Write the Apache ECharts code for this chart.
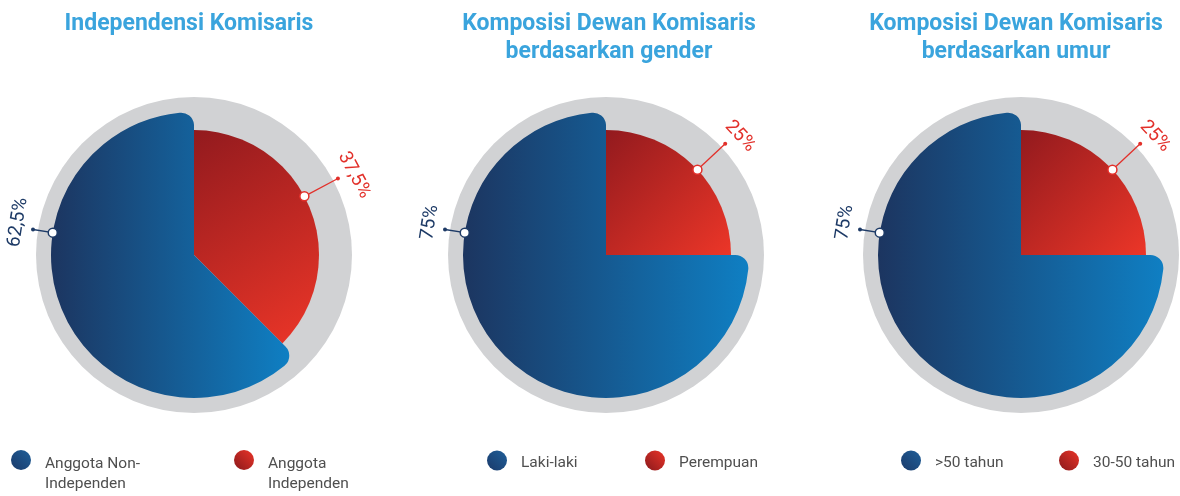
<!DOCTYPE html>
<html>
<head>
<meta charset="utf-8">
<script src="https://cdn.jsdelivr.net/npm/echarts@6/dist/echarts.min.js"></script>
<style>
  html, body { margin: 0; padding: 0; background: #fff; }
  #main { width: 1180px; height: 496px; }
</style>
</head>
<body>
<div id="main"></div>
<script>
// data
var titles = ['Independensi Komisaris', 'Komposisi Dewan Komisaris\nberdasarkan gender', 'Komposisi Dewan Komisaris\nberdasarkan umur'];
var blueNames = ['Anggota Non-Independen', 'Laki-laki', '>50 tahun'];
var redNames = ['Anggota Independen', 'Perempuan', '30-50 tahun'];
var blueLegend = ['Anggota Non-\nIndependen', 'Laki-laki', '>50 tahun'];
var redLegend = ['Anggota\nIndependen', 'Perempuan', '30-50 tahun'];
var blueValues = [62.5, 75, 75];
var redValues = [37.5, 25, 25];

// layout
var centersX = [194, 606, 1021];
var titleX = [184, 604, 1011];
var cy = 255;
var rGray = 158, rBlue = 143, rRed = 125;
var blueIconX = [11, 487, 901];
var redIconX = [234, 645, 1059];
var blueLabelAngle = [171, 171, 171];
var redLabelAngle = [28, 43, 43];
var navy = '#1d3a66', red = '#e2302a';

var blueGrad = new echarts.graphic.LinearGradient(0, 0, 1, 0, [
  { offset: 0, color: '#1c3560' }, { offset: 1, color: '#0f7fc3' }
]);
var redGrad = new echarts.graphic.LinearGradient(0, 0, 1, 1, [
  { offset: 0, color: '#921a1e' }, { offset: 1, color: '#ec3628' }
]);
var blueIcon = new echarts.graphic.LinearGradient(0, 1, 1, 0, [
  { offset: 0, color: '#1b3a6a' }, { offset: 1, color: '#1f5f99' }
]);
var redIcon = new echarts.graphic.LinearGradient(0, 1, 1, 0, [
  { offset: 0, color: '#8a191c' }, { offset: 1, color: '#ea3428' }
]);

function fmt(v) { return String(v).replace('.', ',') + '%'; }

var myChart = echarts.init(document.getElementById('main'));

var option = {
  animation: false,
  title: [],
  legend: [],
  series: [],
  graphic: []
};

var legendMap = {};

for (var i = 0; i < 3; i++) {
  var cx = centersX[i];
  legendMap[blueNames[i]] = blueLegend[i];
  legendMap[redNames[i]] = redLegend[i];

  option.title.push({
    text: titles[i],
    left: titleX[i],
    top: 5,
    textAlign: 'center',
    textStyle: { color: '#3aa4dd', fontSize: 23, fontWeight: 'bold', fontFamily: 'Roboto', lineHeight: 28 }
  });

  var common = {
    type: 'pie',
    center: [cx, cy],
    startAngle: 90,
    clockwise: true,
    silent: true,
    label: { show: false },
    labelLine: { show: false },
    emphasis: { disabled: true }
  };

  // grey background disc
  option.series.push(Object.assign({}, common, {
    radius: rGray,
    data: [{ value: 1, name: 'bg' + i, itemStyle: { color: '#d1d2d4', borderWidth: 0 } }]
  }));
  // red slice (smaller)
  option.series.push(Object.assign({}, common, {
    radius: rRed,
    data: [
      { value: redValues[i], name: redNames[i], itemStyle: { color: redGrad, borderWidth: 0 } },
      { value: blueValues[i], name: '_b' + i, itemStyle: { color: 'rgba(0,0,0,0)', borderWidth: 0 } }
    ]
  }));
  // blue slice (larger, rounded)
  option.series.push(Object.assign({}, common, {
    radius: rBlue,
    data: [
      { value: redValues[i], name: '_r' + i, itemStyle: { color: 'rgba(0,0,0,0)', borderWidth: 0 } },
      { value: blueValues[i], name: blueNames[i], itemStyle: { color: blueGrad, borderWidth: 0, borderRadius: [0, 13] } }
    ]
  }));

  var twoLine = i === 0;
  var legTop = twoLine ? 426 : 450;
  var txt = {
    fontSize: 15.5, color: '#4f4f4f', fontFamily: 'Roboto', lineHeight: 20,
    padding: [0, 0, 0, 9],
    rich: {
      s: { fontSize: 2, lineHeight: 28 },
      t: { fontSize: 15.5, color: '#4f4f4f', fontFamily: 'Roboto', lineHeight: 20 },
      o: { fontSize: 15.5, color: '#4f4f4f', fontFamily: 'Roboto', lineHeight: 20, padding: [5, 0, 0, 0] }
    }
  };
  [[blueNames[i], blueIcon, blueIconX[i]], [redNames[i], redIcon, redIconX[i]]].forEach(function (it) {
    option.legend.push({
      data: [{ name: it[0], itemStyle: { color: it[1] } }],
      left: it[2], top: legTop, padding: 0,
      icon: 'circle', itemWidth: 20, itemHeight: 20,
      selectedMode: false,
      textStyle: txt,
      formatter: function (n) {
        var lines = legendMap[n].split('\n');
        if (lines.length < 2) return '{o|' + lines[0] + '}';
        return '{s| }\n' + lines.map(function (l) { return '{t|' + l + '}'; }).join('\n');
      }
    });
  });

  // annotation labels: angle in degrees (math convention)
  var anns = [
    { ang: redLabelAngle[i], r: rRed, color: red, text: fmt(redValues[i]) },
    { ang: blueLabelAngle[i], r: rBlue, color: navy, text: fmt(blueValues[i]) }
  ];
  anns.forEach(function (a) {
    var rad = a.ang * Math.PI / 180;
    var trad = (a.ang - 1.5) * Math.PI / 180;
    var px = function (r) { return cx + r * Math.cos(rad); };
    var py = function (r) { return cy - r * Math.sin(rad); };
    option.graphic.push({
      type: 'line', z: 100, silent: true,
      shape: { x1: px(a.r), y1: py(a.r), x2: px(163), y2: py(163) },
      style: { stroke: a.color, lineWidth: 1.3 }
    });
    option.graphic.push({
      type: 'circle', z: 101, silent: true,
      shape: { cx: px(163), cy: py(163), r: 2 },
      style: { fill: a.color }
    });
    option.graphic.push({
      type: 'circle', z: 101, silent: true,
      shape: { cx: px(a.r), cy: py(a.r), r: 4.5 },
      style: { fill: '#fff', stroke: a.color, lineWidth: 1.5 }
    });
    option.graphic.push({
      type: 'text', z: 101, silent: true,
      x: cx + 179 * Math.cos(trad), y: cy - 179 * Math.sin(trad),
      rotation: (a.ang - 90) * Math.PI / 180,
      style: { text: a.text, fill: a.color, font: '19px Roboto', align: 'center', verticalAlign: 'middle' }
    });
  });
}

option && myChart.setOption(option);
</script>
</body>
</html>
